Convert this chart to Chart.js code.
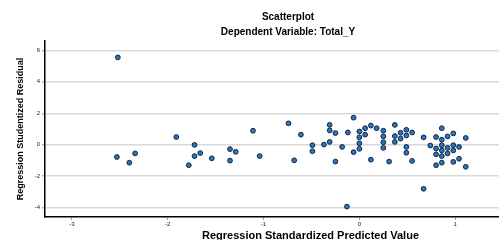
<!DOCTYPE html>
<html>
<head>
<meta charset="utf-8">
<script src="https://cdn.jsdelivr.net/npm/chart.js@4/dist/chart.umd.min.js"></script>
<style>
  html, body { margin: 0; padding: 0; background: #fff; overflow: hidden; }
  #wrap { width: 576px; height: 240px; }
</style>
</head>
<body>
<div id="wrap"><canvas id="residChart" width="576" height="240"></canvas></div>
<script>
// Regression Standardized Predicted Value
const predicted = [
  -2.52, -2.53, -2.40, -2.34, -1.91, -1.72, -1.72, -1.66, -1.78, -1.54,
  -1.35, -1.29, -1.35, -1.11, -1.04, -0.74, -0.61, -0.68, -0.49, -0.49,
  -0.37, -0.31, -0.31, -0.31, -0.25, -0.25, -0.18, -0.12, -0.13, -0.06,
  -0.06, 0.00, 0.00, 0.00, 0.00, 0.06, 0.06, 0.12, 0.12, 0.18,
  0.25, 0.25, 0.25, 0.25, 0.31, 0.37, 0.37, 0.37, 0.43, 0.43,
  0.49, 0.49, 0.49, 0.49, 0.55, 0.55, 0.67, 0.67, 0.74, 0.80,
  0.80, 0.80, 0.80, 0.86, 0.86, 0.86, 0.86, 0.86, 0.86, 0.92,
  0.92, 0.92, 0.98, 0.98, 0.98, 0.98, 1.04, 1.04, 1.11, 1.11
];
// Regression Studentized Residual
const residual = [
  5.55, -0.78, -1.14, -0.55, 0.49, -0.01, -0.72, -0.53, -1.30, -0.86,
  -0.28, -0.45, -1.01, 0.89, -0.72, 1.36, 0.64, -0.99, -0.03, -0.41,
  0.01, 0.18, 1.26, 0.91, 0.74, -1.07, -0.14, 0.78, -3.93, -0.47,
  1.72, 0.84, 0.47, 0.09, -0.26, 1.05, 0.64, 1.22, -0.95, 1.05,
  0.89, 0.53, 0.16, -0.20, -1.07, 1.26, 0.55, 0.18, 0.76, 0.39,
  0.95, 0.59, -0.14, -0.51, 0.78, -1.03, 0.47, -2.80, -0.05, 0.49,
  -0.24, -0.61, -1.30, 1.05, 0.32, -0.03, -0.36, -0.72, -1.14, 0.53,
  -0.20, -0.55, 0.72, -0.03, -0.36, -1.09, -0.14, -0.89, 0.43, -1.40
];

const xTicks = [-3, -2, -1, 0, 1];
const yTicks = [-4, -2, 0, 2, 4, 6];

const points = predicted.map((x, i) => ({ x: x, y: residual[i] }));

const ctx = document.getElementById("residChart").getContext("2d");

new Chart(ctx, {
  type: "scatter",
  data: {
    datasets: [{
      data: points,
      backgroundColor: "#2f74bb",
      borderColor: "#0c2544",
      borderWidth: 1,
      pointRadius: 2.4,
      pointHoverRadius: 2.4
    }]
  },
  options: {
    responsive: false,
    animation: false,
    layout: { padding: 0, autoPadding: false },
    plugins: {
      legend: { display: false },
      tooltip: { enabled: false },
      title: {
        display: true,
        text: "Scatterplot",
        color: "#000",
        font: { family: "Liberation Sans, Arial, sans-serif", size: 10, weight: "bold", lineHeight: 1.2 },
        padding: { top: 11, bottom: 0 }
      },
      subtitle: {
        display: true,
        text: "Dependent Variable: Total_Y",
        color: "#000",
        font: { family: "Liberation Sans, Arial, sans-serif", size: 10, weight: "bold", lineHeight: 1.2 },
        padding: { top: 3, bottom: 3 }
      }
    },
    scales: {
      x: {
        type: "linear",
        min: -3.28,
        max: 2.26,
        afterBuildTicks: scale => { scale.ticks = xTicks.map(v => ({ value: v })); },
        afterFit: scale => { scale.height = 23; },
        grid: { drawOnChartArea: false, drawTicks: true, tickLength: 3, color: "#999" },
        border: { display: true, color: "#000", width: 1.5 },
        ticks: {
          color: "#222",
          padding: 1,
          font: { family: "Liberation Sans, Arial, sans-serif", size: 6 }
        },
        title: {
          display: true,
          text: "Regression Standardized Predicted Value",
          color: "#000",
          padding: 0,
          font: { family: "Liberation Sans, Arial, sans-serif", size: 11, weight: "bold", lineHeight: 0.7 }
        }
      },
      y: {
        type: "linear",
        min: -4.59,
        max: 6.59,
        afterBuildTicks: scale => { scale.ticks = yTicks.map(v => ({ value: v })); },
        afterFit: scale => { scale.width = 45; },
        grid: { color: "#d9d9d9", lineWidth: 1.5, tickLength: 3, tickColor: "#bbb" },
        border: { display: true, color: "#000", width: 1.5 },
        ticks: {
          color: "#222",
          padding: 2,
          font: { family: "Liberation Sans, Arial, sans-serif", size: 6 }
        },
        title: {
          display: true,
          text: "Regression Studentized Residual",
          color: "#000",
          padding: { top: 15, bottom: 0 },
          font: { family: "Liberation Sans, Arial, sans-serif", size: 9, weight: "bold", lineHeight: 1.2 }
        }
      }
    }
  }
});
</script>
</body>
</html>
